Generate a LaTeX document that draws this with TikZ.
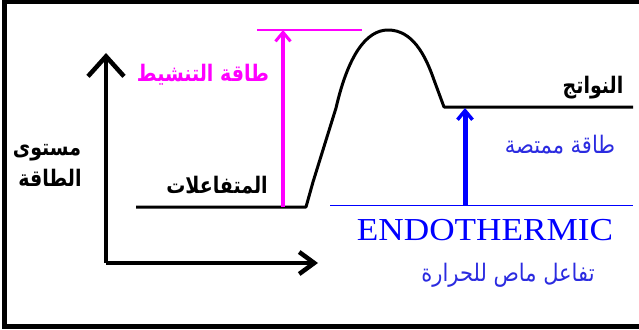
\documentclass[tikz,border=0pt]{standalone}
\usepackage{fontspec}
\setmainfont{Liberation Serif}
\newfontfamily\arabicfont[Script=Arabic]{DejaVu Sans}
\TeXXeTstate=1
\usetikzlibrary{arrows.meta}
\definecolor{ink}{HTML}{000000}
\definecolor{act}{HTML}{FF00FF}
\definecolor{absb}{HTML}{0000FF}
\definecolor{absl}{HTML}{2B2BE0}
\tikzset{
  axis/.style={-{Straight Barb[length=20pt,width=36pt,line width=4.5pt]}, line width=4pt, color=ink},
  xaxis/.style={-{Straight Barb[length=15pt,width=22pt,line width=4.5pt]}, line width=4pt, color=ink},
  lvl/.style={line width=3pt, color=ink},
  lab/.style={font=\arabicfont\bfseries\fontsize{#1}{#1}\selectfont, text=ink, inner sep=0pt, yscale=1.2},
  lab/.default=19,
  blab/.style={font=\arabicfont\fontsize{#1}{#1}\selectfont, text=absl, inner sep=0pt, yscale=1.15},
  blab/.default=21,
}
\begin{document}
\begin{tikzpicture}[x=1pt,y=-1pt]
  \useasboundingbox (0,0) rectangle (639,329);
  \draw[line width=4.5pt] (4.5,2) rectangle (700,326.5);
  % axes
  \coordinate (orig) at (106,263);
  \coordinate (ytop) at (106,53);
  \coordinate (xend) at (318,263);
  \draw[axis] (orig) -- (ytop);
  \draw[xaxis] (orig) -- (xend);
  % levels and curve
  \coordinate (rstart) at (136,207);
  \coordinate (rend) at (306,207);
  \coordinate (peak) at (388,30);
  \coordinate (pstart) at (444,107);
  \coordinate (pend) at (633,107);
  \draw[lvl, line join=round] (rstart) -- (rend) -- (313,182) -- (336,108)
    .. controls (348,56) and (366,30) .. (peak)
    .. controls (412,30) and (425,54) .. (434,80) -- (pstart) -- (pend);
  % activation energy
  \coordinate (actbot) at (283,207);
  \coordinate (acttop) at (283,30);
  \coordinate (barl) at (257,30);
  \coordinate (barr) at (362,30);
  \draw[act, line width=2pt] (barl) -- (barr);
  \draw[act, line width=4.5pt, -{Straight Barb[length=9pt,width=15pt,line width=3pt]}] (actbot) -- (acttop);
  % absorbed energy
  \coordinate (absl) at (330,205.5);
  \coordinate (absr) at (633,205.5);
  \coordinate (absbot) at (465,205.5);
  \coordinate (abstop) at (465,108);
  \draw[absb, line width=1pt] (absl) -- (absr);
  \draw[absb, line width=5pt, -{Straight Barb[length=9pt,width=15pt,line width=3.5pt]}] (absbot) -- (abstop);
  % labels
  \node[lab] (lev1) at (47,153) {\beginR مستوى\endR};
  \node[lab] (lev2) at (50,178) {\beginR الطاقة\endR};
  \node[lab, text=act] (actlab) at (203,75) {\beginR طاقة التنشيط\endR};
  \node[lab] (reac) at (217,185) {\beginR المتفاعلات\endR};
  \node[lab] (prod) at (593,88) {\beginR النواتج\endR};
  \node[blab] (abslab) at (560,145) {\beginR طاقة ممتصة\endR};
  \node[font=\fontsize{32}{32}\selectfont, text=absb, inner sep=0pt, xscale=1.1] (endo) at (485,230) {ENDOTHERMIC};
  \node[blab] (endoar) at (508,275) {\beginR تفاعل ماص للحرارة\endR};
\end{tikzpicture}
\end{document}
